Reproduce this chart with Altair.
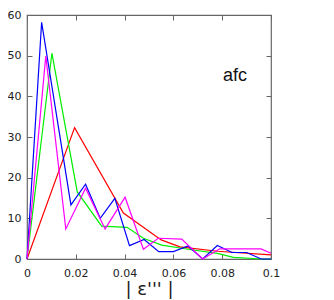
import altair as alt
import pandas as pd

blue_x = [0, 0.006, 0.018, 0.024, 0.030, 0.036, 0.042, 0.048, 0.054, 0.060, 0.066, 0.072, 0.078, 0.084, 0.090, 0.096, 0.1]
blue_y = [0, 58.2, 13.3, 18.4, 10.0, 14.9, 3.3, 4.8, 1.8, 1.8, 3.2, 0, 3.3, 1.6, 1.6, 0, 0]
green_x = [0, 0.0102, 0.0206, 0.0306, 0.041, 0.0477, 0.0552, 0.066, 0.078, 0.0846, 0.096, 0.1]
green_y = [0, 50.6, 16.5, 8.1, 7.8, 5.1, 3.4, 2.4, 1.4, 0.4, 0, 0]
red_x = [0, 0.0195, 0.0395, 0.055, 0.0627, 0.078, 0.1]
red_y = [0, 32.3, 11.3, 4.7, 3.0, 1.9, 1.0]
mag_x = [0, 0.0077, 0.0159, 0.024, 0.032, 0.0402, 0.0477, 0.0538, 0.0634, 0.072, 0.079, 0.0959, 0.1]
mag_y = [0, 49.9, 7.4, 17.4, 7.4, 15.2, 2.4, 5.1, 4.9, 0, 2.5, 2.5, 1.4]

series = [("red", red_x, red_y, "#ff0000"),
          ("green", green_x, green_y, "#00ee00"),
          ("blue", blue_x, blue_y, "#0000ff"),
          ("magenta", mag_x, mag_y, "#ff00ff")]

rows = []
for i, (name, xs, ys, col) in enumerate(series):
    for j, (xv, yv) in enumerate(zip(xs, ys)):
        rows.append({"s": name, "order": i, "idx": j, "x": xv, "y": yv})
df = pd.DataFrame(rows)

xscale = alt.Scale(domain=[0, 0.1], nice=False, zero=False)
yscale = alt.Scale(domain=[0, 60], nice=False)

common_axis = dict(tickSize=5, domain=False, offset=-5, tickColor="#666666",
                   labelFont="DejaVu Sans", labelFontSize=11, labelColor="#222222",
                   grid=False)

x_bottom = alt.Axis(values=[0, 0.02, 0.04, 0.06, 0.08, 0.1], format="~g", orient="bottom",
                    title="| ε''' |", titleFont="DejaVu Sans", titleFontSize=18,
                    titleFontWeight="normal", titleColor="#222222", titlePadding=2,
                    labelFlush=False, labelPadding=8, **common_axis)
y_left = alt.Axis(values=[0, 10, 20, 30, 40, 50, 60], orient="left", title=None,
                  labelFlush=False, labelPadding=6, **common_axis)

lines = alt.Chart(df).mark_line(strokeWidth=1.2).encode(
    x=alt.X("x:Q", scale=xscale, axis=x_bottom),
    y=alt.Y("y:Q", scale=yscale, axis=y_left),
    color=alt.Color("s:N", scale=alt.Scale(domain=[s[0] for s in series],
                                            range=[s[3] for s in series]), legend=None),
    order="idx:Q",
    detail="s:N",
)

x_top = alt.Axis(values=[0, 0.02, 0.04, 0.06, 0.08, 0.1], orient="top", title=None,
                 labels=False, tickSize=5, domain=False, offset=-5, tickColor="#666666", grid=False)
y_right = alt.Axis(values=[0, 10, 20, 30, 40, 50, 60], orient="right", title=None,
                   labels=False, tickSize=5, domain=False, offset=-5, tickColor="#666666", grid=False)

label_df = pd.DataFrame({"x": [0.0852], "y": [45.0], "t": ["afc"]})
label = alt.Chart(label_df).mark_text(font="Liberation Sans", fontSize=18, color="#111111",
                                      align="center", baseline="middle").encode(
    x=alt.X("x:Q", scale=xscale, axis=x_top),
    y=alt.Y("y:Q", scale=yscale, axis=y_right),
    text="t:N",
)

chart = alt.layer(lines, label).resolve_axis(x="independent", y="independent").properties(
    width=244, height=244,
    autosize=alt.AutoSizeParams(type="none"),
    padding={"left": 19, "top": 7, "right": 50, "bottom": 40},
).configure_view(stroke="#666666", strokeWidth=1.2)

chart.save("out.html", embed_options={"renderer": "svg", "actions": False})
